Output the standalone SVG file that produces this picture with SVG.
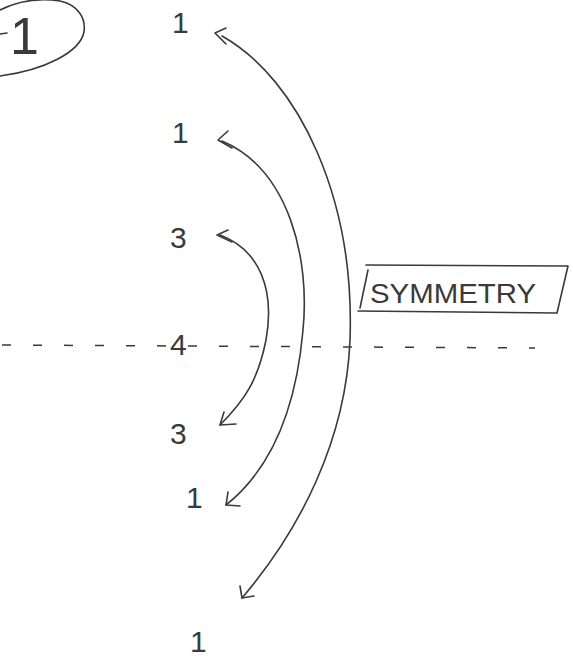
<svg xmlns="http://www.w3.org/2000/svg" width="573" height="664" viewBox="0 0 573 664">
<style>
.ln{fill:none;stroke:#3a3a3a;stroke-width:1.6;stroke-linecap:round;stroke-linejoin:round}
.dash{fill:none;stroke:#3a3a3a;stroke-width:1.5;stroke-dasharray:9 22}
.num{font-family:"Liberation Sans",Arial,sans-serif;font-size:30px;fill:#3a3a3a}
.big{font-family:"Liberation Sans",Arial,sans-serif;font-size:52px;fill:#3a3a3a}
.lab{font-family:"Liberation Sans",Arial,sans-serif;font-size:28px;fill:#3a3a3a}
</style>
<rect width="573" height="664" fill="#ffffff"/>
<g id="badge">
<path class="ln" d="M0,10 C20,0 40,-2 60,1 C78,5 86,18 84,32 C80,52 45,70 0,76"/>
<text class="big" x="10" y="54">1</text>
<path class="ln" d="M0,34 L7,33"/>
</g>
<g id="axis-line">
<line class="dash" x1="2" y1="345" x2="535" y2="348"/>
</g>
<g id="n1-top"><text class="num" x="172" y="33">1</text></g>
<g id="n1-upper"><text class="num" x="172" y="143">1</text></g>
<g id="n3-upper"><text class="num" x="170" y="248">3</text></g>
<g id="n4"><text class="num" x="170" y="355">4</text></g>
<g id="n3-lower"><text class="num" x="170" y="444">3</text></g>
<g id="n1-lower"><text class="num" x="186" y="508">1</text></g>
<g id="n1-bottom"><text class="num" x="190" y="652">1</text></g>
<g id="symmetry">
<path class="ln" d="M366,265 L568,266 L557,313 L358,311 M368,270 L360,308"/>
<text class="lab" x="370" y="303" textLength="166" lengthAdjust="spacingAndGlyphs">SYMMETRY</text>
</g>
<g id="connectors">
<path class="ln" d="M222,36 C300,80 355,200 350,340 C346,440 300,530 242,598"/>
<path class="ln" d="M226,28 L215,33 L226,44 M242,598 L240,586 M242,598 L254,596"/>
<path class="ln" d="M222,141 C290,170 310,260 303,330 C296,410 270,470 226,505"/>
<path class="ln" d="M228,131 L218,140 L232,148 M226,505 L228,492 M226,505 L240,506"/>
<path class="ln" d="M220,235 C260,250 275,290 266,340 C258,380 245,400 220,425"/>
<path class="ln" d="M228,230 L217,235 L232,242 M220,425 L224,412 M220,425 L236,424"/>
</g>
</svg>
